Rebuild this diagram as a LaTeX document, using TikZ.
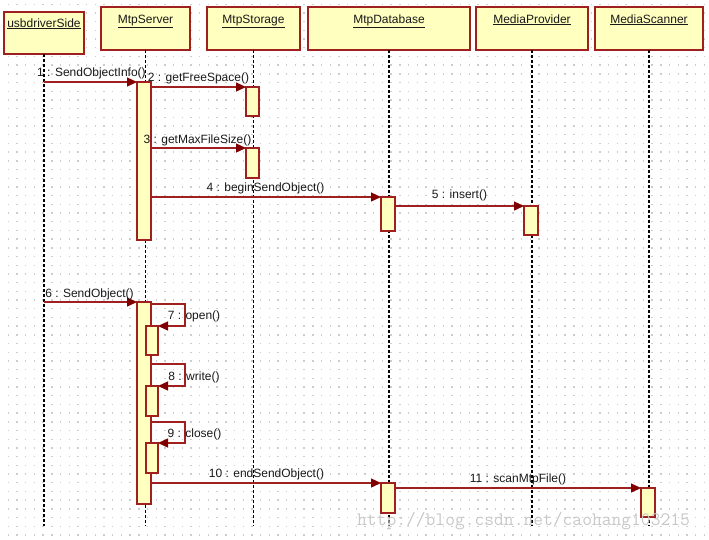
\documentclass[tikz,border=0pt]{standalone}
\usepackage{fontspec}
\setmainfont{Liberation Sans}
\usetikzlibrary{arrows.meta}
\definecolor{boxfill}{RGB}{255,255,192}
\definecolor{boxline}{RGB}{160,32,32}
\definecolor{msgline}{RGB}{160,32,32}
\definecolor{headcol}{RGB}{128,0,0}
\definecolor{dotcol}{RGB}{205,205,205}
\definecolor{wmcol}{RGB}{200,200,200}
\begin{document}
\begin{tikzpicture}[x=1pt,y=-1pt,
  head/.style={draw=boxline, fill=boxfill, line width=1.3pt, rectangle, inner sep=0pt, outer sep=0pt, anchor=north west},
  hlbl/.style={font=\fontsize{12}{14}\selectfont, anchor=base, inner sep=0pt, text=black!90},
  life/.style={black, line width=1.4pt, dash pattern=on 3pt off 2pt},
  act/.style={draw=boxline, fill=boxfill, line width=1.3pt, rectangle, inner sep=0pt, outer sep=0pt, anchor=north west, minimum width=14pt},
  msg/.style={draw=msgline, line width=1.3pt, -{Triangle[length=10pt,width=9pt,fill=headcol,color=headcol]}},
  lbl/.style={font=\fontsize{12}{14}\selectfont, anchor=base, inner sep=0pt, text=black!90},
  wm/.style={font=\ttfamily\fontsize{19}{21}\selectfont, text=wmcol, anchor=base west, inner sep=0pt},
  dots/.style={dotcol, line width=1.4pt, dash pattern=on 1.4pt off 7.3pt}
]
\fill[white] (0,0) rectangle (709,539);
\useasboundingbox (0,0) rectangle (709,539);
% grid dots
\foreach \k in {0,...,61} {
  \draw[dots] (7.6,{4.2+8.7*\k}) -- (709,{4.2+8.7*\k});
}
% heads
\node[head, minimum width=80pt, minimum height=42pt] (usb) at (4,12) {};
\node[head, minimum width=89pt, minimum height=43pt] (srv) at (101,7) {};
\node[head, minimum width=93pt, minimum height=43pt] (sto) at (207,7) {};
\node[head, minimum width=162pt, minimum height=43pt] (db) at (308,7) {};
\node[head, minimum width=112pt, minimum height=43pt] (mp) at (476,7) {};
\node[head, minimum width=108pt, minimum height=43pt] (ms) at (595,7) {};
\node[hlbl] (usbl) at ([yshift=-15pt]usb.north) {\underline{usbdriverSide}};
\node[hlbl] (srvl) at ([yshift=-16pt]srv.north) {\underline{MtpServer}};
\node[hlbl] (stol) at ([yshift=-16pt]sto.north) {\underline{MtpStorage}};
\node[hlbl] (dbl) at ([yshift=-16pt]db.north) {\underline{MtpDatabase}};
\node[hlbl] (mpl) at ([yshift=-16pt]mp.north) {\underline{MediaProvider}};
\node[hlbl] (msl) at ([yshift=-16pt]ms.north) {\underline{MediaScanner}};
% lifelines
\coordinate (bot) at (0,526);
\foreach \n in {usb,srv,sto,db,mp,ms} {
  \draw[life] (\n.south) -- (\n.south |- bot);
}
% activations
\node[act, minimum height=158pt] (a1) at (137,82) {};
\node[act, minimum width=13pt, minimum height=29pt] (s1) at (246,87) {};
\node[act, minimum width=13pt, minimum height=30pt] (s2) at (246,148) {};
\node[act, minimum height=34pt] (d1) at (381,197) {};
\node[act, minimum height=29pt] (p1) at (524,206) {};
\node[act, minimum height=202pt] (a2) at (137,302) {};
\node[act, minimum width=12pt, minimum height=29pt] (n7) at (146,326) {};
\node[act, minimum width=12pt, minimum height=30pt] (n8) at (146,386) {};
\node[act, minimum width=12pt, minimum height=30pt] (n9) at (146,443) {};
\node[act, minimum height=30pt] (d2) at (381,483) {};
\node[act, minimum height=29pt] (c1) at (641,488) {};
% loop start points
\coordinate (l7) at (151,304);
\coordinate (l8) at (151,364);
\coordinate (l9) at (151,422);
% messages
\draw[msg] (usb.south |- a1.north west) -- (a1.north west);
\draw[msg] (a1.east |- s1.north west) -- (s1.north west);
\draw[msg] (a1.east |- s2.north west) -- (s2.north west);
\draw[msg] (a1.east |- d1.north west) -- (d1.north west);
\draw[msg] (d1.east |- p1.north west) -- (p1.north west);
\draw[msg] (usb.south |- a2.north west) -- (a2.north west);
\draw[msg] (l7) -- ++(34,0) |- (n7.north east);
\draw[msg] (l8) -- ++(34,0) |- (n8.north east);
\draw[msg] (l9) -- ++(34,0) |- (n9.north east);
\draw[msg] (a2.east |- d2.north west) -- (d2.north west);
\draw[msg] (d2.east |- c1.north west) -- (c1.north west);
% labels
\node[lbl] (t1) at (91.5,76) {1 : SendObjectInfo()};
\node[lbl] (t2) at (198.5,81) {2 : getFreeSpace()};
\node[lbl] (t3) at (197.5,143) {3 : getMaxFileSize()};
\node[lbl] (t4) at (265.5,191) {4 : beginSendObject()};
\node[lbl] (t5) at (459.5,198.5) {5 : insert()};
\node[lbl] (t6) at (89.5,297) {6 : SendObject()};
\node[lbl] (t7) at (194,319) {7 : open()};
\node[lbl] (t8) at (194,380) {8 : write()};
\node[lbl] (t9) at (194.5,437) {9 : close()};
\node[lbl] (t10) at (266.5,477) {10 : endSendObject()};
\node[lbl] (t11) at (518,482) {11 : scanMtpFile()};
% watermark
\node[wm] (wm) at (357,525) {http://blog.csdn.net/caohang103215};
\end{tikzpicture}
\end{document}
